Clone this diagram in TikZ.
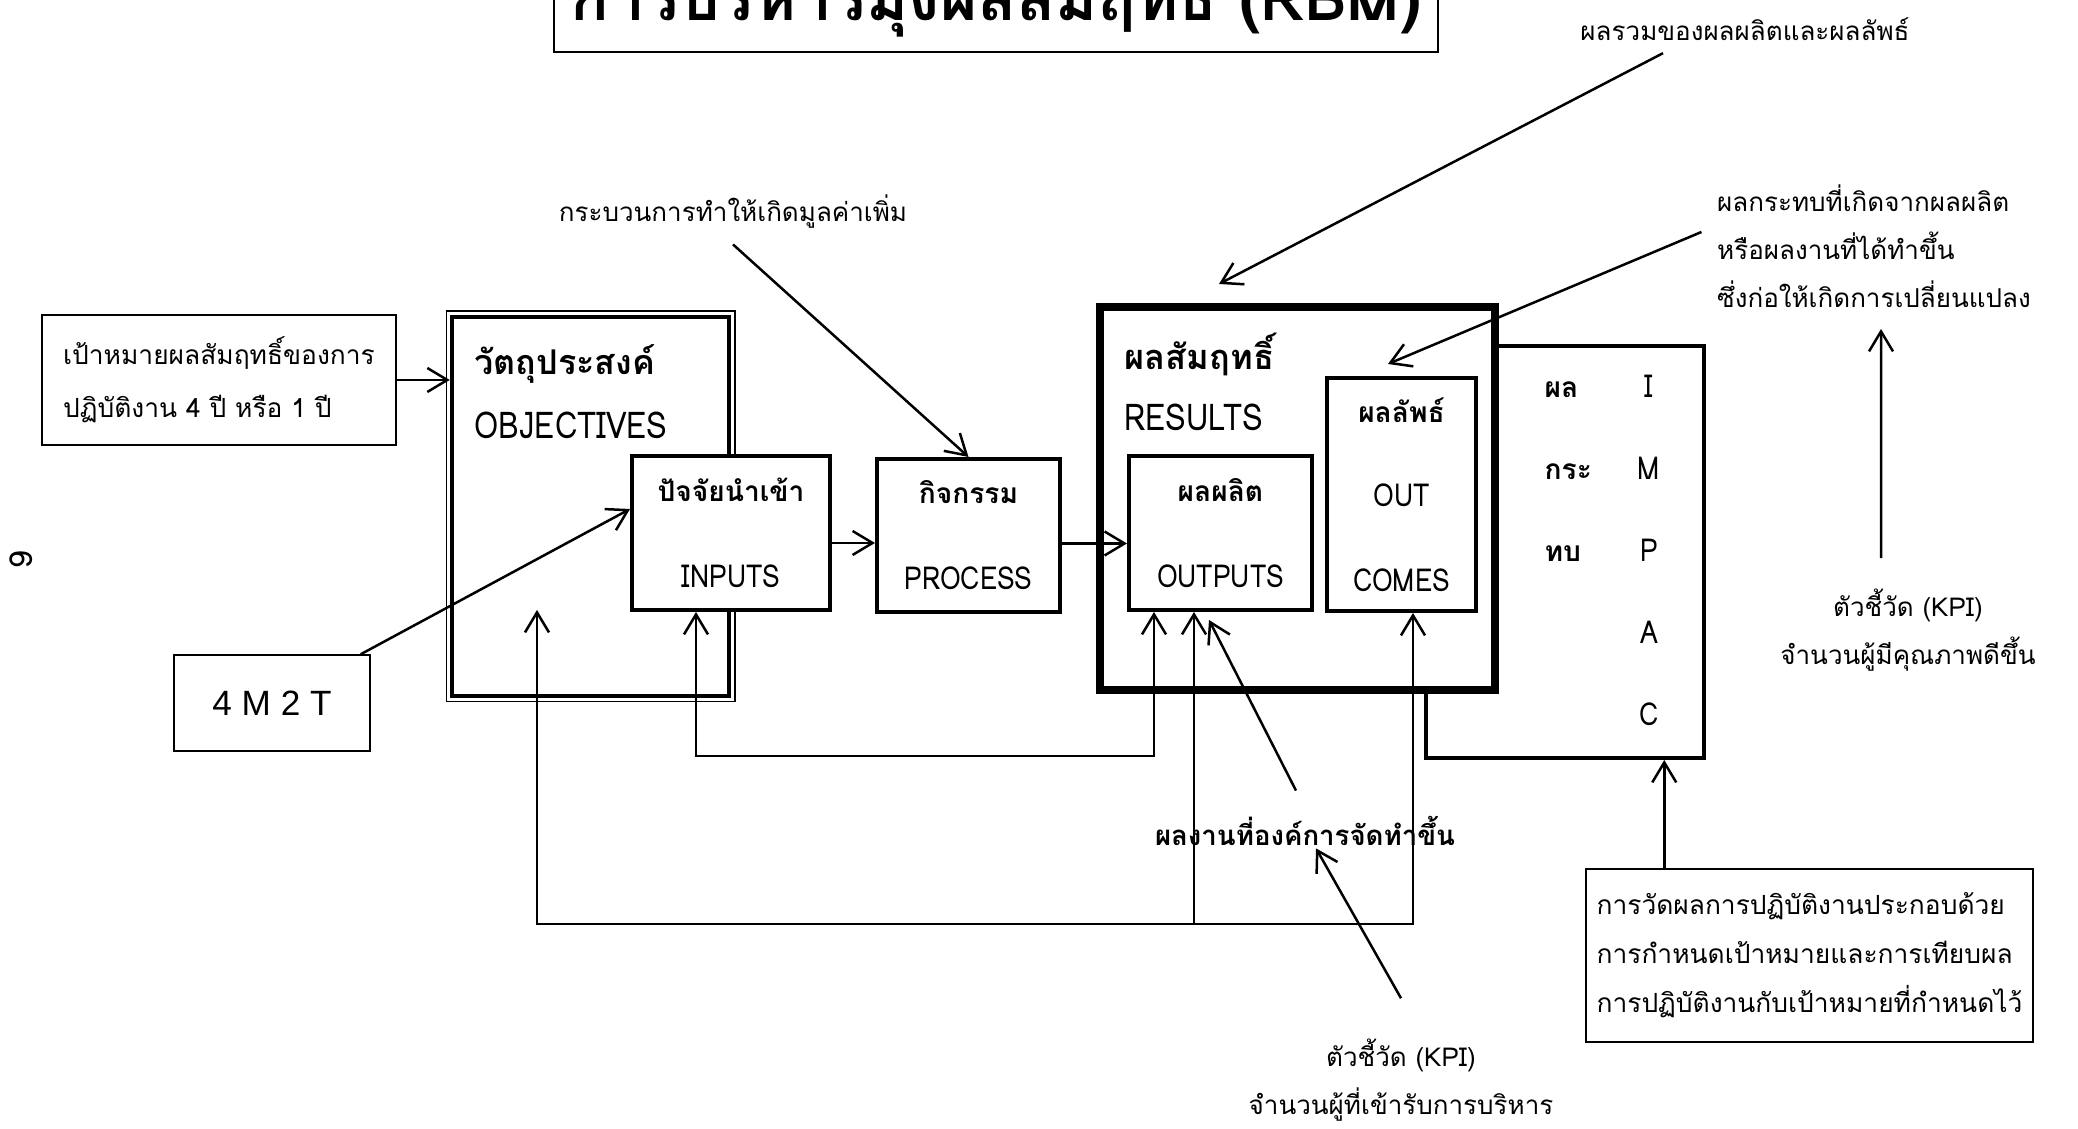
\documentclass[tikz,border=0pt]{standalone}
\usepackage{fontspec}
\setmainfont[Script=Thai]{Loma}
\newfontfamily\latin[FakeStretch=0.84]{Loma}
\newfontfamily\arialfont{Liberation Sans}
\usetikzlibrary{arrows.meta,positioning}
\tikzset{box/.style={draw, line width=0.4mm, inner sep=0pt, align=center},
note/.style={draw, line width=0.15mm, inner sep=0pt, align=left},
ann/.style={inner sep=0pt, align=#1, font=\fontsize{7.4}{13.6}\selectfont},
ann/.default=center,
big/.style={inner sep=0pt, anchor=base west, font=\latin\fontsize{10.5}{12}\selectfont},
inbox/.style={box, fill=white, font=\fontsize{9}{24.5}\selectfont},
conn/.style={line width=0.25mm, -{Straight Barb[length=2mm,width=2.4mm]}},
fb/.style={line width=0.25mm, {Straight Barb[length=2mm,width=2.4mm]}-{Straight Barb[length=2mm,width=2.4mm]}}}
\newcommand{\thb}[1]{{\rmfamily\bfseries\fontsize{8}{10}\selectfont #1}}

\begin{document}
\begin{tikzpicture}[x=0.1mm,y=-0.1mm]
\useasboundingbox (0,0) rectangle (2078,1129);
\clip (0,0) rectangle (2078,1129);

% title (cut at the top)
\draw[line width=0.15mm] (554,-80) rectangle (1438,52);
\node[inner sep=0pt, anchor=base, font=\fontsize{18.2}{20}\selectfont\bfseries] (title) at (996,21) {การบริหารมุ่งผลสัมฤทธิ์ (RBM)};
\node[rotate=90, font=\fontsize{9}{10}\selectfont] (pageno) at (21,560) {9};

% left side
\node[note, minimum width=35.4mm, minimum height=13mm, font=\fontsize{7.5}{15}\selectfont] (goal) at (219,380) {เป้าหมายผลสัมฤทธิ์ของการ\\ปฏิบัติงาน 4 ปี หรือ 1 ปี};
\node[note, minimum width=19.6mm, minimum height=9.6mm, font=\arialfont\fontsize{10}{12}\selectfont] (mtt) at (272,703) {4 M 2 T};

\node[box, line width=0.45mm, minimum width=27.7mm, minimum height=37.9mm] (obj) at (590.5,506.5) {};
\draw[line width=0.15mm] ([shift={(-3.5,-3.5)}]obj.north west) rectangle ([shift={(3.5,3.5)}]obj.south east);
\node[big, font=\fontsize{9.7}{12}\selectfont\bfseries] (objth) at (474,375) {วัตถุประสงค์};
\node[big] (objen) at (474,439) {OBJECTIVES};

\node[inbox, minimum width=19.8mm, minimum height=15.4mm] (inputs) at (731,533) {\thb{ปัจจัยนำเข้า}\\\latin INPUTS};
\node[inbox, minimum width=18.3mm, minimum height=15.3mm] (process) at (968.5,535.5) {\thb{กิจกรรม}\\\latin PROCESS};

% impact sits behind the results box
\node[box, minimum width=27.8mm, minimum height=41.2mm] (impact) at (1565,552) {};
\foreach \w [count=\i] in {ผล,กระ,ทบ}
  \node[inner sep=0pt, anchor=base west] (impth\i) at (1544,316+82*\i) {\thb{\w}};
\foreach \c [count=\i] in {I,M,P,A,C}
  \node[inner sep=0pt, anchor=base, font=\latin\fontsize{9}{10}\selectfont] (impen\i) at (1649,316+82*\i) {\c};

\node[box, line width=0.8mm, fill=white, minimum width=39.5mm, minimum height=38.3mm] (results) at (1297.5,498.5) {};
\node[big, font=\fontsize{9.8}{12}\selectfont\bfseries] (resth) at (1124,370) {ผลสัมฤทธิ์};
\node[big] (resen) at (1124,431) {RESULTS};
\node[inbox, minimum width=18.3mm, minimum height=15.4mm] (outputs) at (1220.5,533) {\thb{ผลผลิต}\\\latin OUTPUTS};
\node[inbox, minimum width=14.9mm, minimum height=23.3mm, font=\fontsize{9}{24}\selectfont] (outcomes) at (1401.5,494.5) {\thb{ผลลัพธ์}\\\latin OUT\\\latin COMES};

% notes
\node[ann] (sumres) at (1745,29) {ผลรวมของผลผลิตและผลลัพธ์};
\node[ann] (addval) at (733,212) {กระบวนการทำให้เกิดมูลค่าเพิ่ม};
\node[ann=left] (impnote) at (1874,246) {ผลกระทบที่เกิดจากผลผลิต\\หรือผลงานที่ได้ทำขึ้น\\ซึ่งก่อให้เกิดการเปลี่ยนแปลง};
\node[ann] (kpir) at (1908,630) {ตัวชี้วัด (KPI)\\จำนวนผู้มีคุณภาพดีขึ้น};
\node[ann, font=\fontsize{7.85}{10}\selectfont\bfseries] (works) at (1305,831) {ผลงานที่องค์การจัดทำขึ้น};
\node[ann] (kpib) at (1401,1080) {ตัวชี้วัด (KPI)\\จำนวนผู้ที่เข้ารับการบริหาร};
\node[note, minimum width=44.7mm, minimum height=17.3mm, font=\fontsize{7.5}{13.9}\selectfont] (measure) at (1809.5,955.5) {การวัดผลการปฏิบัติงานประกอบด้วย\\การกำหนดเป้าหมายและการเทียบผล\\การปฏิบัติงานกับเป้าหมายที่กำหนดไว้};

% main flow
\draw[conn] (goal.east) -- (goal.east -| obj.west);
\draw[conn] ([xshift=-1mm]mtt.north east) -- ([yshift=2.4mm]inputs.west);
\draw[conn] ([yshift=-1mm]inputs.east) -- ([yshift=-1mm]inputs.east -| process.west);
\draw[conn] ([yshift=-0.8mm]process.east) -- ([yshift=-0.8mm]process.east -| outputs.west);

\draw[conn] ([yshift=-1.5mm]addval.south) -- (process.north);
\draw[conn] ([xshift=-8.2mm,yshift=-1.2mm]sumres.south) -- ([xshift=-7.85mm,yshift=1.9mm]results.north);
\draw[conn] ([xshift=-1.5mm,yshift=1.4mm]impnote.west) -- ([xshift=-1.35mm,yshift=1.2mm]outcomes.north);
\coordinate (kpitop) at (1881,329);
\draw[conn] ([xshift=-2.7mm,yshift=3mm]kpir.north) -- (kpitop);
\coordinate (measarr) at ([xshift=7.9mm]measure.north west);
\draw[conn] (measarr) -- (measarr |- impact.south);

% feedback
\draw[fb] ([xshift=-3.5mm]inputs.south) -- ++(0,144) -| ([xshift=-6.65mm]outputs.south);
\coordinate (objfb) at (537,610);
\draw[fb] (objfb) -- (537,924) -| ([xshift=1.15mm]outcomes.south);
\coordinate (fbmid) at (1194,924);
\draw[conn] (fbmid) -- (fbmid |- outputs.south);

\draw[conn] ([xshift=-0.9mm,yshift=2.5mm]works.north) -- ([xshift=-1.15mm,yshift=-0.8mm]outputs.south);
\draw[conn] ([yshift=4mm]kpib.north) -- ([xshift=1.1mm,yshift=-0.2mm]works.south);
\end{tikzpicture}
\end{document}
